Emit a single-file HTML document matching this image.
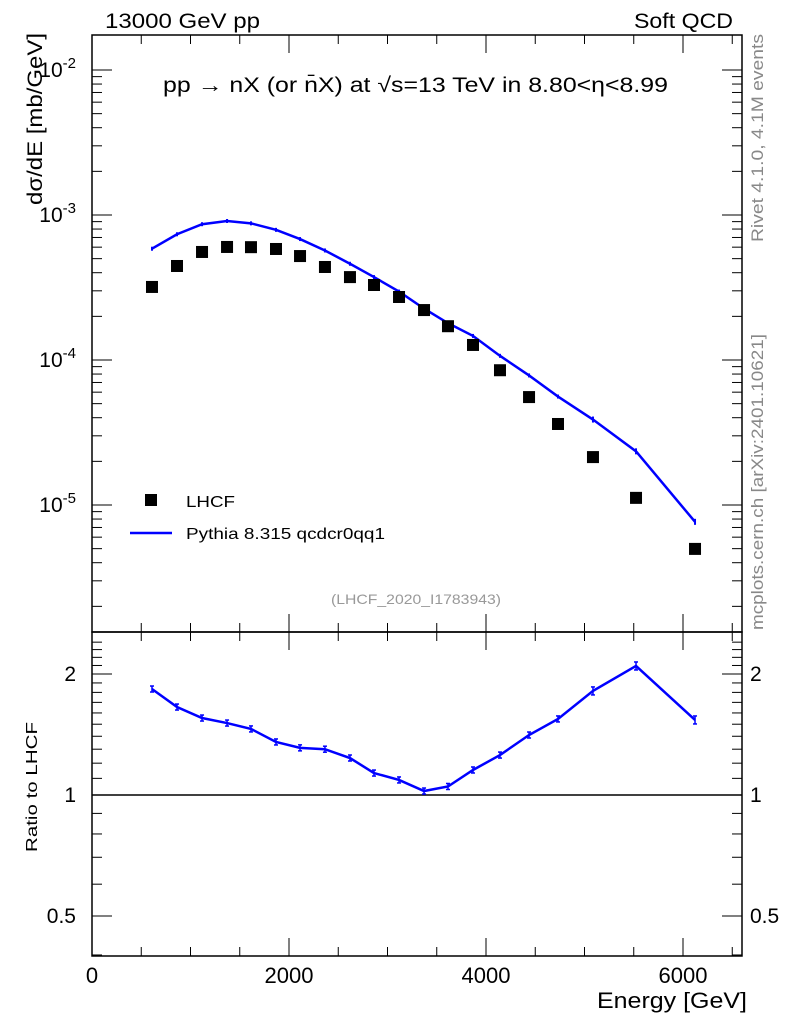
<!DOCTYPE html>
<html><head><meta charset="utf-8"><style>
body{margin:0;background:#fff;}
svg{display:block;font-family:"Liberation Sans",sans-serif;}
</style></head><body>
<svg id="c" width="786" height="1024" xmlns="http://www.w3.org/2000/svg">
<text x="105" y="28" font-size="21" textLength="155" lengthAdjust="spacingAndGlyphs">13000 GeV pp</text>
<text x="634" y="28" font-size="21" textLength="99" lengthAdjust="spacingAndGlyphs">Soft QCD</text>
<text x="163" y="92" font-size="21" textLength="505" lengthAdjust="spacingAndGlyphs">pp  →  nX (or n̄X) at √s=13 TeV in 8.80&lt;η&lt;8.99</text>
<text x="331" y="604" font-size="14" fill="#999" textLength="170" lengthAdjust="spacingAndGlyphs">(LHCF_2020_I1783943)</text>
<text transform="translate(763,242) rotate(-90)" font-size="17" fill="#888" textLength="208" lengthAdjust="spacingAndGlyphs">Rivet 4.1.0,  4.1M events</text>
<text transform="translate(763,630) rotate(-90)" font-size="17" fill="#888" textLength="296" lengthAdjust="spacingAndGlyphs">mcplots.cern.ch [arXiv:2401.10621]</text>
<text transform="translate(42,205) rotate(-90)" font-size="21" textLength="172" lengthAdjust="spacingAndGlyphs">dσ/dE [mb/GeV]</text>
<text transform="translate(37,852) rotate(-90)" font-size="16" textLength="130" lengthAdjust="spacingAndGlyphs">Ratio to LHCF</text>
<text x="597" y="1008" font-size="22" textLength="150" lengthAdjust="spacingAndGlyphs">Energy [GeV]</text>
<g id="g"></g>
<rect x="145" y="494" width="12" height="12" fill="#000"/>
<text x="186" y="507" font-size="16" textLength="49" lengthAdjust="spacingAndGlyphs">LHCF</text>
<line x1="130" y1="533" x2="172" y2="533" stroke="#00f" stroke-width="2.5"/>
<text x="186" y="539" font-size="16" textLength="199" lengthAdjust="spacingAndGlyphs">Pythia 8.315 qcdcr0qq1</text>
</svg>
<script>
const energies=[609,863,1117,1371,1614,1868,2112,2365,2619,2863,3117,3371,3614,3868,4142,4437,4731,5086,5523,6122];
const lhcf=[3.19e-4,4.45e-4,5.56e-4,6.02e-4,6.0e-4,5.83e-4,5.21e-4,4.38e-4,3.73e-4,3.29e-4,2.72e-4,2.21e-4,1.71e-4,1.27e-4,8.5e-5,5.55e-5,3.62e-5,2.14e-5,1.12e-5,4.98e-6];
const ratio=[1.835,1.655,1.554,1.51,1.46,1.355,1.31,1.30,1.236,1.134,1.09,1.023,1.05,1.154,1.257,1.41,1.546,1.815,2.094,1.537];
const xTicks=[0,2000,4000,6000];
const yDecades=[-5,-4,-3,-2];
const ratioTicks=[0.5,1,2];
const NS="http://www.w3.org/2000/svg";
const g=document.getElementById('g');
const L=92,R=742,T=35,B=632,RT=632,RB=956;
const X=v=>L+v*0.0985;
const Y=v=>215-(Math.log10(v)+3)*145;
const YR=v=>795-Math.log10(v)*402;
function el(t,a,p){const e=document.createElementNS(NS,t);for(const k in a)e.setAttribute(k,a[k]);(p||g).appendChild(e);return e;}
let e;
e=el('rect',{x:L,y:T,width:R-L,height:B-T,fill:'none',stroke:'#000','stroke-width':1.5});


e=el('rect',{x:L,y:RT,width:R-L,height:RB-RT,fill:'none',stroke:'#000','stroke-width':1.5});


for(let v=0;v<=6500;v+=500){const big=v%2000===0;const h=big?18:9;const x=X(v);
 for(const [y0,y1] of [[T,1],[B,-1],[RT,1],[RB,-1]]) el('line',{x1:x,x2:x,y1:y0,y2:y0+y1*h,stroke:'#000'});}
xTicks.forEach(v=>{e=el('text',{x:X(v),y:983,'font-size':22,'text-anchor':'middle'});e.textContent=v;

});
for(let d=-6;d<=-2;d++){for(let m=1;m<10;m++){const v=m*Math.pow(10,d);const y=Y(v);if(y<T||y>B)continue;const h=m===1?20:10;
 el('line',{x1:L,x2:L+h,y1:y,y2:y,stroke:'#000'});el('line',{x1:R,x2:R-h,y1:y,y2:y,stroke:'#000'});}}
yDecades.forEach(d=>{e=el('text',{x:76,y:Y(Math.pow(10,d))+7,'font-size':21,'text-anchor':'end'});
 e.innerHTML='10<tspan dy="-9" font-size="15">'+d+'</tspan>';

});
for(let v=0.4;v<=2.5;v+=0.1){const y=YR(v);if(y<RT||y>RB)continue;const big=[0.5,1,2].some(t=>Math.abs(t-v)<1e-6);const h=big?20:10;
 el('line',{x1:L,x2:L+h,y1:y,y2:y,stroke:'#000'});el('line',{x1:R,x2:R-h,y1:y,y2:y,stroke:'#000'});}
ratioTicks.forEach(v=>{for(const [x,a] of [[76,'end'],[750,'start']]){e=el('text',{x:x,y:YR(v)+7,'font-size':21,'text-anchor':a});e.textContent=v;

}});
e=el('line',{x1:L,x2:R,y1:YR(1),y2:YR(1),stroke:'#000','stroke-width':1.5});


const mc=lhcf.map((v,i)=>v*ratio[i]);
e=el('polyline',{points:energies.map((x,i)=>X(x)+','+Y(mc[i])).join(' '),fill:'none',stroke:'#00f','stroke-width':2.5});


e=el('polyline',{points:energies.map((x,i)=>X(x)+','+YR(ratio[i])).join(' '),fill:'none',stroke:'#00f','stroke-width':2.5});


energies.forEach((x,i)=>{
 const px=X(x),err=i>=17?3:2;
 el('line',{x1:px,x2:px,y1:Y(mc[i])-err,y2:Y(mc[i])+err,stroke:'#00f','stroke-width':2});
 el('line',{x1:px-2,x2:px+2,y1:YR(ratio[i])-err-1,y2:YR(ratio[i])-err-1,stroke:'#00f','stroke-width':1.5});
 el('line',{x1:px-2,x2:px+2,y1:YR(ratio[i])+err+1,y2:YR(ratio[i])+err+1,stroke:'#00f','stroke-width':1.5});
 el('line',{x1:px,x2:px,y1:YR(ratio[i])-err-1,y2:YR(ratio[i])+err+1,stroke:'#00f','stroke-width':1.5});
 e=el('rect',{x:px-6,y:Y(lhcf[i])-6,width:12,height:12,fill:'#000'});
 
 
});
</script>
</body></html>
